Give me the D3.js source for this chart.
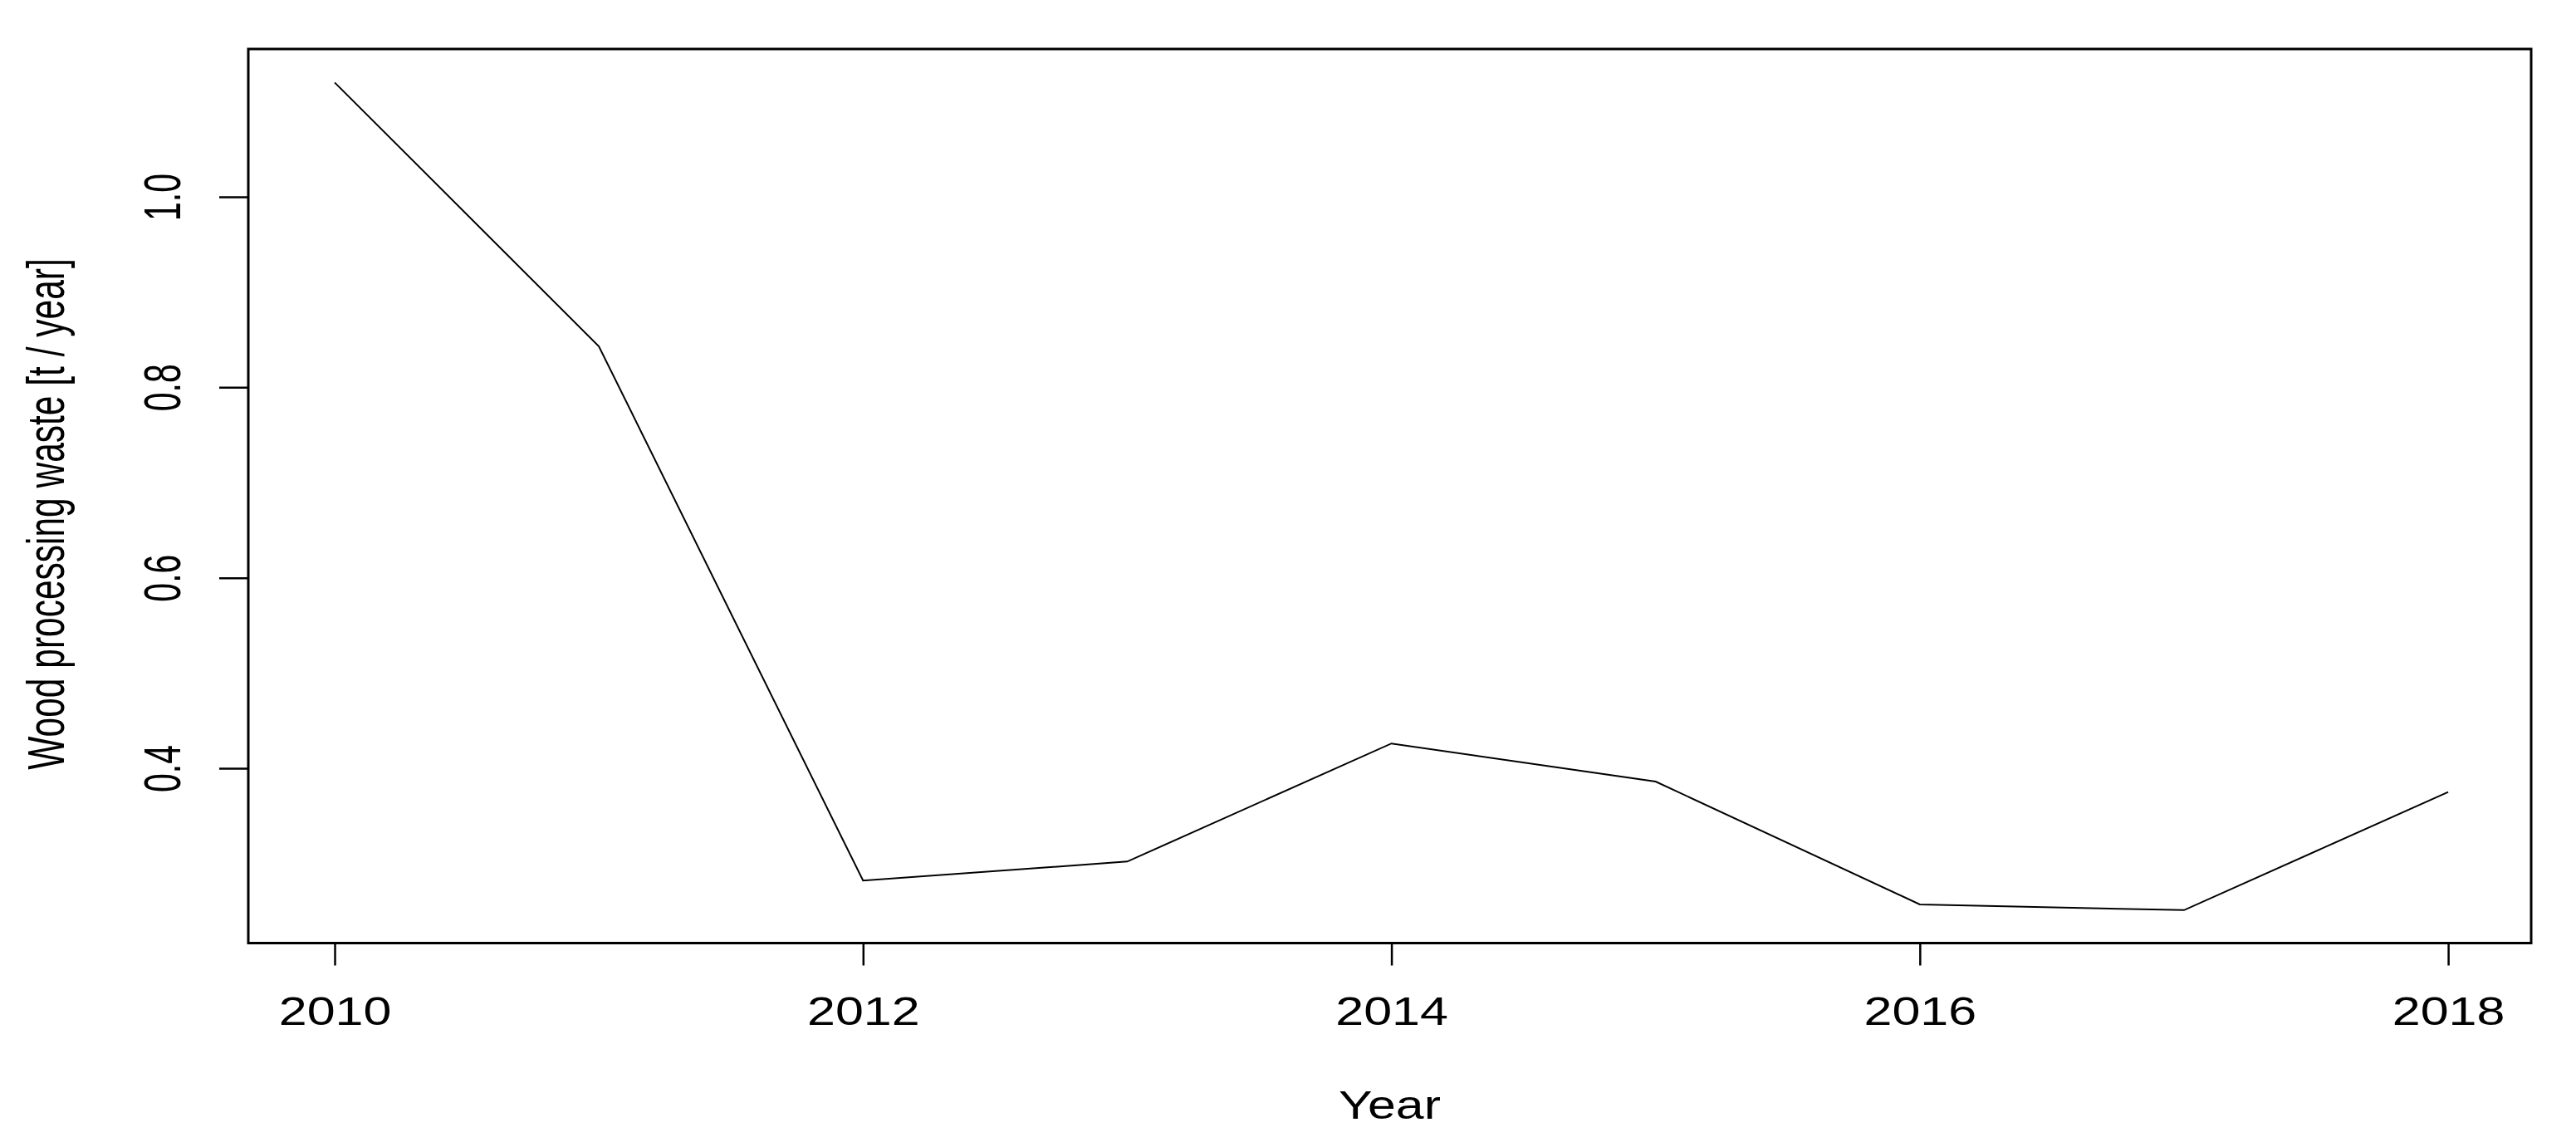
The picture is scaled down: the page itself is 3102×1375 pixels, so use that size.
<!DOCTYPE html>
<html>
<head>
<meta charset="utf-8">
<script src="https://cdn.jsdelivr.net/npm/d3@7"></script>
<style>
  body { margin: 0; background: #fff; }
  text { font-family: "Liberation Sans", Arial, sans-serif; fill: #000; }
</style>
</head>
<body>
<div class="chart"></div>
<script>
var years = [2010, 2011, 2012, 2013, 2014, 2015, 2016, 2017, 2018];
var waste = [1.120, 0.843, 0.282, 0.302, 0.426, 0.386, 0.257, 0.251, 0.375];
var xTicks = [2010, 2012, 2014, 2016, 2018];
var yTicks = [0.4, 0.6, 0.8, 1.0];

var width = 3102, height = 1375;
var plotLeft = 299, plotRight = 3048, plotTop = 59, plotBottom = 1135.5;

var svg = d3.select(".chart")
  .append("svg")
  .attr("width", width)
  .attr("height", height);

// R style: range padded by 4% on each side
var x = d3.scaleLinear()
  .domain([2009.673, 2018.314])
  .range([plotLeft, plotRight]);

var y = d3.scaleLinear()
  .domain([0.2164, 1.1552])
  .range([plotBottom, plotTop]);

// x axis
var gx = svg.append("g")
  .attr("transform", "translate(0," + plotBottom + ")")
  .call(d3.axisBottom(x).tickValues(xTicks).tickSize(27).tickFormat(d3.format("d")));
gx.select(".domain").remove();
gx.selectAll(".tick line").attr("stroke", "#000").attr("stroke-width", 2.5);
gx.selectAll(".tick text")
  .attr("y", 98.5)
  .attr("dy", null)
  .attr("font-size", 48)
  .attr("font-family", "Liberation Sans, Arial, sans-serif")
  .attr("transform", "scale(1.27,1)")
  .attr("fill", "#000");

// y axis
var gy = svg.append("g")
  .attr("transform", "translate(" + plotLeft + ",0)")
  .call(d3.axisLeft(y).tickValues(yTicks).tickSize(35).tickFormat(d3.format(".1f")));
gy.select(".domain").remove();
gy.selectAll(".tick line").attr("stroke", "#000").attr("stroke-width", 2.5);
gy.selectAll(".tick text")
  .attr("x", 0)
  .attr("dy", null)
  .attr("text-anchor", "middle")
  .attr("font-size", 41)
  .attr("font-family", "Liberation Sans, Arial, sans-serif")
  .attr("transform", "translate(-82,0) scale(1.55,1) rotate(-90)")
  .attr("fill", "#000");

// the line
var line = d3.line()
  .x(function(d, i){ return x(years[i]); })
  .y(function(d){ return y(d); });

svg.append("path")
  .datum(waste)
  .attr("d", line)
  .attr("fill", "none")
  .attr("stroke", "#000")
  .attr("stroke-width", 2);

// box
svg.append("rect")
  .attr("x", plotLeft)
  .attr("y", plotTop)
  .attr("width", plotRight - plotLeft)
  .attr("height", plotBottom - plotTop)
  .attr("fill", "none")
  .attr("stroke", "#000")
  .attr("stroke-width", 3);

// axis titles
svg.append("text")
  .attr("text-anchor", "middle")
  .attr("font-size", 47.5)
  .attr("transform", "translate(" + (plotLeft + plotRight) / 2 + ",1347) scale(1.28,1)")
  .text("Year");

svg.append("text")
  .attr("text-anchor", "middle")
  .attr("font-size", 42.5)
  .attr("transform", "translate(77,619) scale(1.5,1) rotate(-90)")
  .text("Wood processing waste [t / year]");
</script>
</body>
</html>
